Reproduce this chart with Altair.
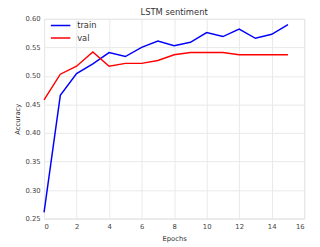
import altair as alt
import pandas as pd

epochs = list(range(16))
train = [0.261, 0.466, 0.504, 0.521, 0.541, 0.534, 0.550, 0.561, 0.553, 0.559,
         0.576, 0.569, 0.582, 0.566, 0.573, 0.590]
val = [0.458, 0.503, 0.517, 0.542, 0.517, 0.522, 0.522, 0.527, 0.537, 0.541,
       0.541, 0.541, 0.537, 0.537, 0.537, 0.537]
series = ["train", "val"]
colors = ["#0000ff", "#ff0000"]
x_ticks = [0, 2, 4, 6, 8, 10, 12, 14, 16]
y_ticks = [0.25, 0.30, 0.35, 0.40, 0.45, 0.50, 0.55, 0.60]

rows = []
for e, t, v in zip(epochs, train, val):
    rows.append({"Epochs": e, "Accuracy": t, "series": "train"})
    rows.append({"Epochs": e, "Accuracy": v, "series": "val"})
df = pd.DataFrame(rows)

font = "DejaVu Sans"

chart = alt.Chart(df).mark_line(strokeWidth=1.5).encode(
    x=alt.X("Epochs:Q", scale=alt.Scale(domain=[0, 16], nice=False),
            axis=alt.Axis(values=x_ticks, format="d", title="Epochs",
                          titleColor="#333333")),
    y=alt.Y("Accuracy:Q", scale=alt.Scale(domain=[0.25, 0.60], nice=False, zero=False),
            axis=alt.Axis(values=y_ticks, format=".2f", title="Accuracy",
                          titleColor="#333333")),
    color=alt.Color("series:N", scale=alt.Scale(domain=series, range=colors),
                    legend=alt.Legend(title=None, orient="none", legendX=6, legendY=0.5,
                                      symbolType="stroke", symbolSize=400,
                                      symbolStrokeWidth=1.5, labelFontSize=8.5,
                                      labelColor="#333333", labelFont=font,
                                      labelOffset=6, rowPadding=0, clipHeight=12.5,
                                      padding=0)),
).properties(
    width=267, height=205,
    title=alt.TitleParams("LSTM sentiment", fontSize=8.6, font=font, color="#333333",
                          fontWeight="normal", offset=1, dy=3),
    autosize=alt.AutoSizeParams(type="none"),
    padding={"left": 37, "top": 8, "right": 8, "bottom": 26},
).configure_view(
    stroke="#d9d9d9", strokeWidth=1
).configure_axis(
    grid=True, gridColor="#e8e8e8", gridWidth=1, domain=False, ticks=False,
    labelFont=font, labelFontSize=7, labelColor="#444444", labelPadding=4,
    titleFont=font, titleFontSize=7, titleColor="#333333", titleFontWeight="normal",
    titlePadding=5
)

chart.save("out.html", embed_options={"renderer": "svg", "actions": False})
